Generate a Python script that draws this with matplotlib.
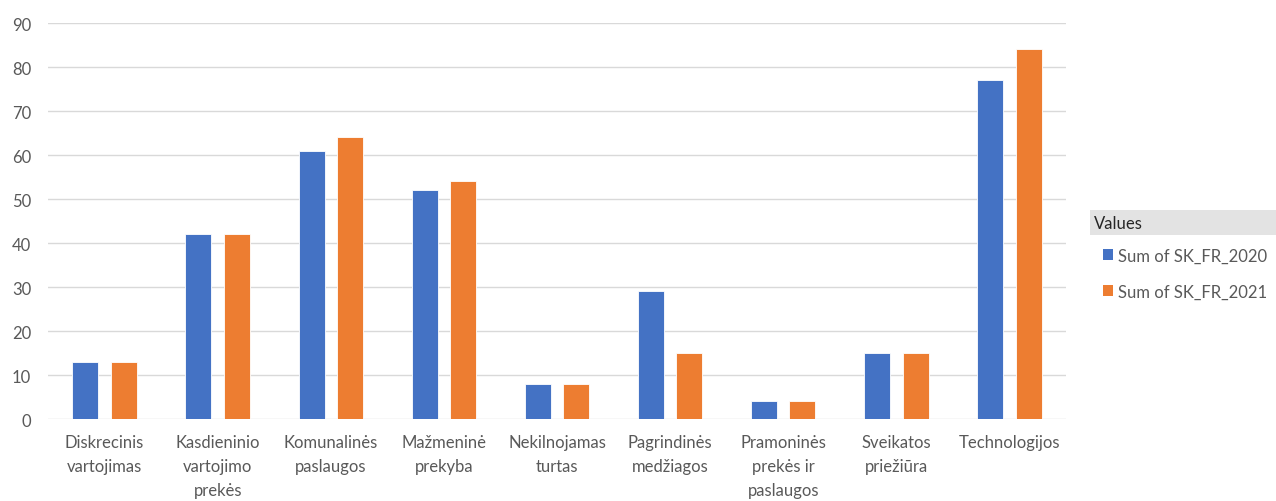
import matplotlib.pyplot as plt
import numpy as np
from matplotlib.patches import Rectangle, Patch

# ============================================================
# Data
# ============================================================
categories = [
    "Diskrecinis\nvartojimas",
    "Kasdieninio\nvartojimo\nprekės",
    "Komunalinės\npaslaugos",
    "Mažmeninė\nprekyba",
    "Nekilnojamas\nturtas",
    "Pagrindinės\nmedžiagos",
    "Pramoninės\nprekės ir\npaslaugos",
    "Sveikatos\npriežiūra",
    "Technologijos",
]
sk_fr_2020 = [13, 42, 61, 52, 8, 29, 4, 15, 77]
sk_fr_2021 = [13, 42, 64, 54, 8, 15, 4, 15, 84]
series_names = ["Sum of SK_FR_2020", "Sum of SK_FR_2021"]
y_ticks = list(range(0, 91, 10))

BLUE = "#4472c4"
ORANGE = "#ed7d31"
TEXT = "#595959"

plt.rcParams["font.family"] = ["Lato", "DejaVu Sans"]

fig = plt.figure(figsize=(12.76, 5.02), dpi=100)
ax = fig.add_axes([0.0376, 0.1633, 0.7978, 0.7887])

x = np.arange(len(categories))
w = 0.23
ax.bar(x - 0.17, sk_fr_2020, width=w, color=BLUE, edgecolor="white", linewidth=0.6, zorder=3)
ax.bar(x + 0.17, sk_fr_2021, width=w, color=ORANGE, edgecolor="white", linewidth=0.6, zorder=3)

ax.set_xlim(-0.5, len(categories) - 0.5)
ax.set_ylim(0, 90)
ax.set_yticks(y_ticks)
ax.set_xticks(x)
ax.set_xticklabels(categories, fontsize=12, color=TEXT, linespacing=1.6)
ax.tick_params(axis="y", labelsize=12, labelcolor=TEXT, length=0, pad=12)
ax.tick_params(axis="x", length=0, pad=11)
ax.grid(axis="y", color="#d9d9d9", linewidth=1, zorder=0)
for s in ax.spines.values():
    s.set_visible(False)

# legend header
fig.patches.append(Rectangle((1090 / 1276, 1 - 236 / 502), 186 / 1276, 25 / 502,
                             transform=fig.transFigure, facecolor="#e3e3e3",
                             edgecolor="none"))
fig.text(1094 / 1276, 1 - 224 / 502, "Values", fontsize=12, color="#262626", va="center")

handles = [Patch(facecolor=BLUE), Patch(facecolor=ORANGE)]
fig.legend(handles, series_names, loc="upper left",
           bbox_to_anchor=(1090 / 1276, 1 - 235 / 502), frameon=False,
           fontsize=12, labelcolor=TEXT, handlelength=0.6, handleheight=0.6,
           handletextpad=0.3, labelspacing=1.2, borderpad=0.3)

fig.savefig("out.png", dpi=100)
